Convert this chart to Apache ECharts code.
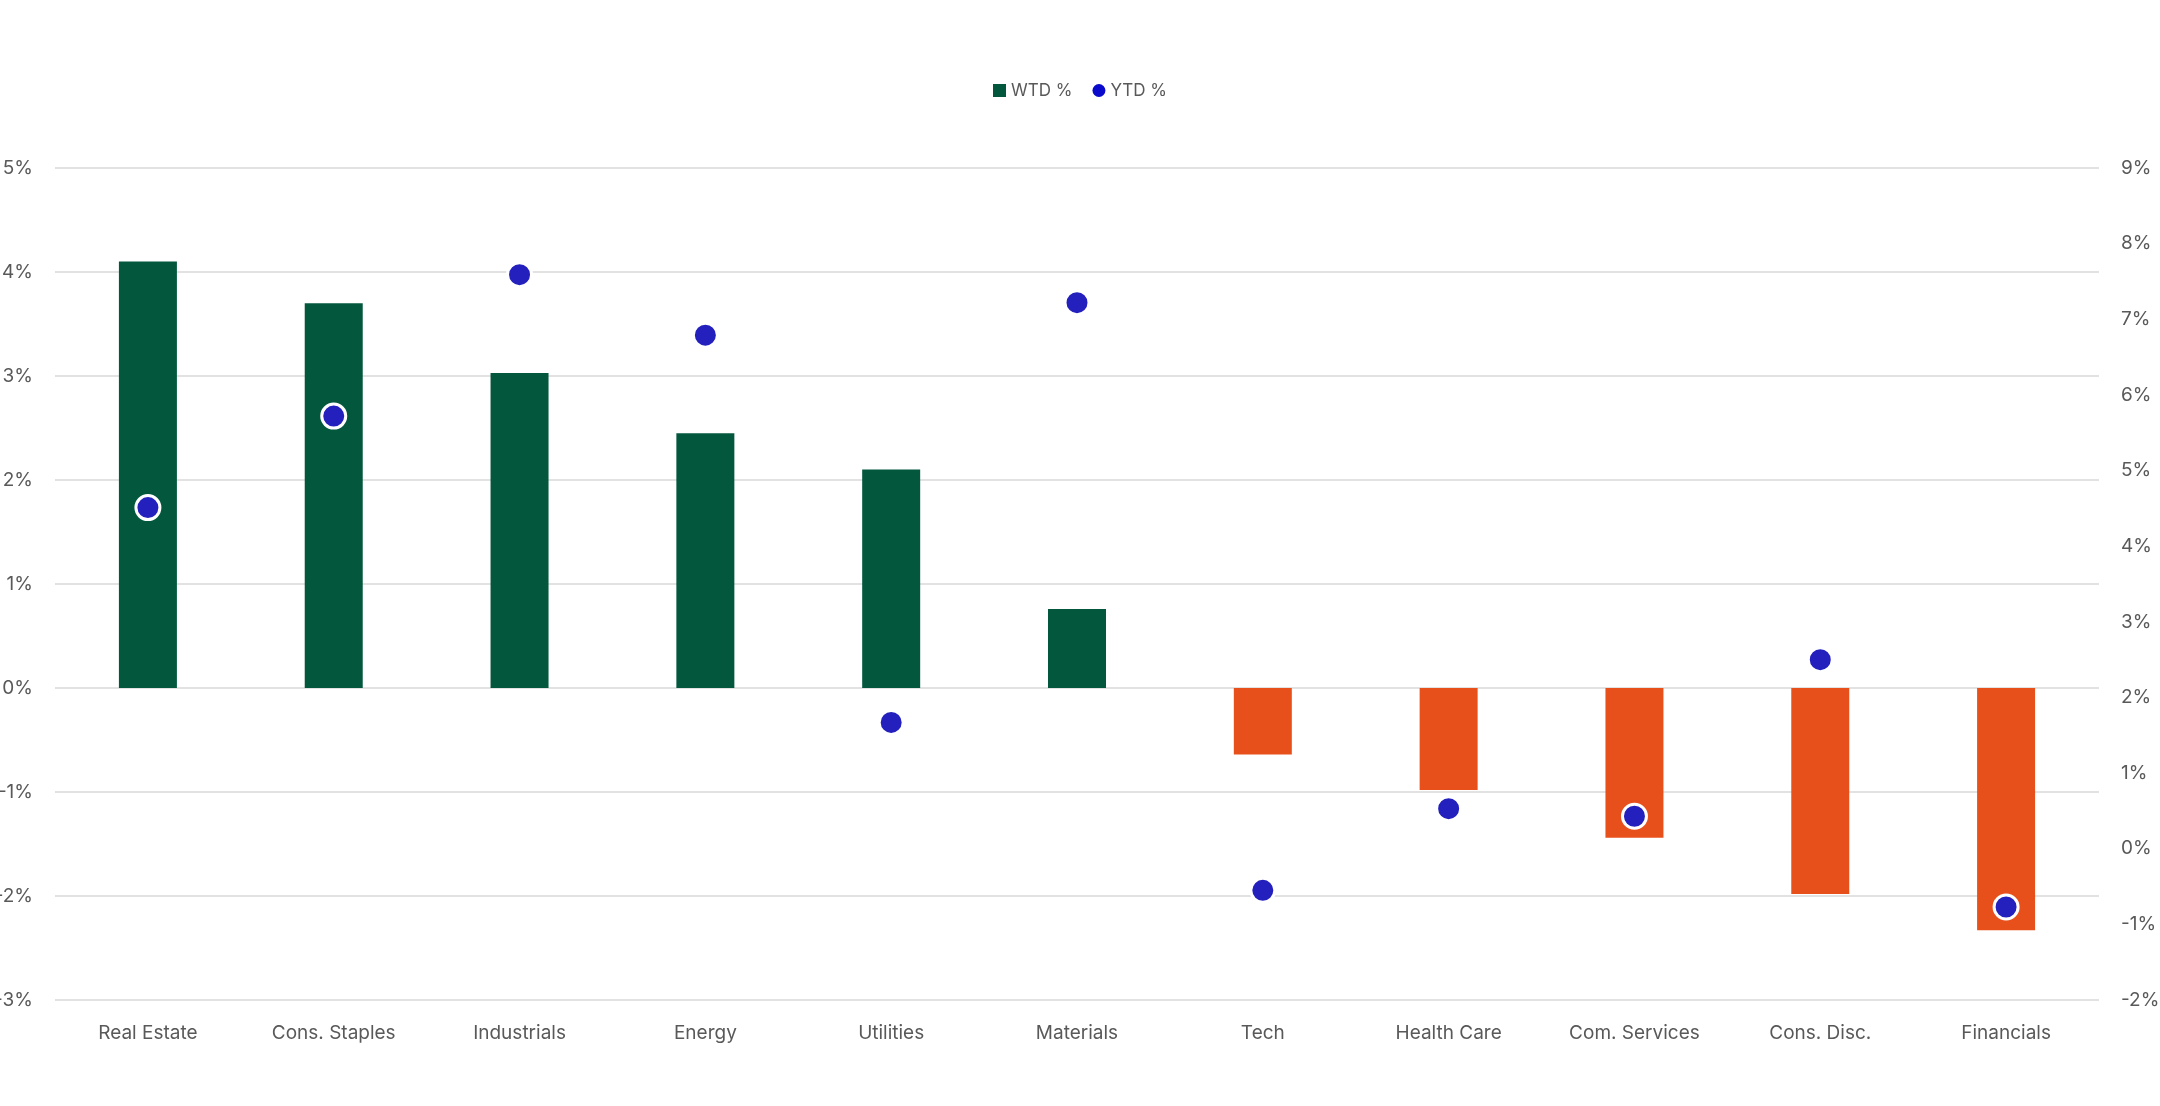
<!DOCTYPE html>
<html>
<head>
<meta charset="utf-8">
<script src="https://cdn.jsdelivr.net/npm/echarts@6/dist/echarts.min.js"></script>
<style>
html,body{margin:0;padding:0;background:#fff;}
#chart{width:2160px;height:1106px;}
</style>
</head>
<body>
<div id="chart"></div>
<script>
const categories = ['Real Estate','Cons. Staples','Industrials','Energy','Utilities','Materials','Tech','Health Care','Com. Services','Cons. Disc.','Financials'];
const wtd = [4.1, 3.7, 3.03, 2.45, 2.1, 0.76, -0.64, -0.98, -1.44, -1.98, -2.33];
const ytd = [4.51, 5.72, 7.59, 6.79, 1.67, 7.22, -0.55, 0.53, 0.43, 2.5, -0.77];

const GREEN = '#03573C';
const ORANGE = '#E8501B';
const BLUE = '#2320BD';
const TXT = '#595959';
const FONT = 'Inter, Roboto, sans-serif';

const chart = echarts.init(document.getElementById('chart'));
chart.setOption({
  backgroundColor: '#fff',
  animation: false,
  textStyle: { fontFamily: FONT },
  legend: {
    top: 77,
    left: 'center',
    itemWidth: 13,
    itemHeight: 13,
    itemGap: 20,
    itemTextGap: 6,
    textStyle: { color: TXT, fontSize: 17, fontFamily: FONT },
    data: [
      { name: 'WTD %', icon: 'rect', itemStyle: { color: GREEN } },
      { name: 'YTD %', icon: 'circle', itemStyle: { color: '#0A0ACC', borderWidth: 0 } }
    ]
  },
  grid: { left: 55, right: 61, top: 168, bottom: 106, containLabel: false, outerBoundsMode: 'none' },
  xAxis: {
    type: 'category',
    data: categories,
    axisLine: { show: false },
    axisTick: { show: false },
    axisLabel: { color: TXT, fontSize: 19, margin: 24, fontFamily: FONT }
  },
  yAxis: [
    {
      type: 'value', min: -3, max: 5, interval: 1, position: 'left',
      axisLine: { show: false }, axisTick: { show: false },
      axisLabel: { color: TXT, fontSize: 19, margin: 22, formatter: '{value}%', fontFamily: FONT },
      splitLine: { lineStyle: { color: '#D9D9D9', width: 1.5 } }
    },
    {
      type: 'value', min: -2, max: 9, interval: 1, position: 'right',
      axisLine: { show: false }, axisTick: { show: false },
      axisLabel: { color: TXT, fontSize: 19, margin: 22, formatter: '{value}%', fontFamily: FONT },
      splitLine: { show: false }
    }
  ],
  series: [
    {
      name: 'WTD %',
      type: 'bar',
      yAxisIndex: 0,
      barWidth: 58,
      data: wtd,
      itemStyle: { color: p => (p.value >= 0 ? GREEN : ORANGE) },
      z: 2
    },
    {
      name: 'YTD %',
      type: 'scatter',
      yAxisIndex: 1,
      symbol: 'circle',
      symbolSize: 24,
      data: ytd,
      itemStyle: { color: BLUE, borderColor: '#fff', borderWidth: 3, opacity: 1 },
      z: 5
    }
  ]
});
</script>
</body>
</html>
